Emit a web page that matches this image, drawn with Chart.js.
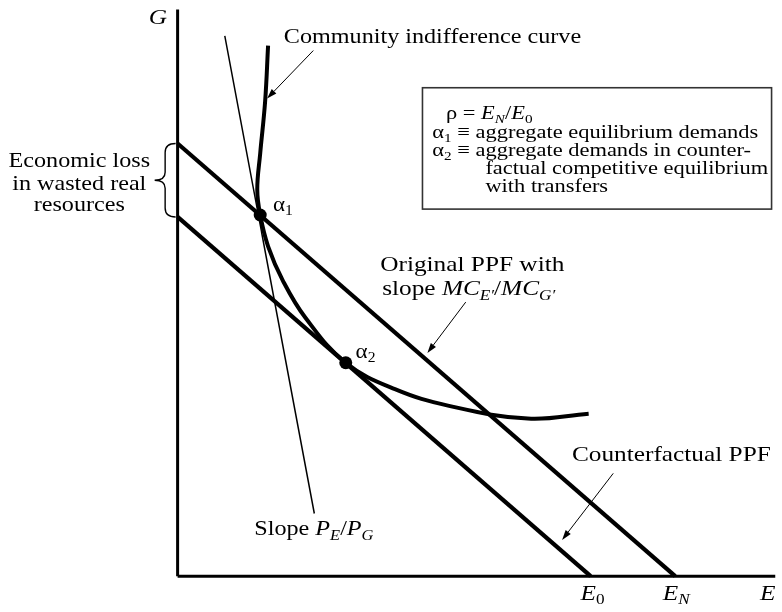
<!DOCTYPE html>
<html><head><meta charset="utf-8">
<script src="https://cdn.jsdelivr.net/npm/chart.js@4.4.1/dist/chart.umd.min.js"></script>
<style>html,body{margin:0;padding:0;background:#fff}canvas{display:block}</style>
</head><body>
<canvas id="c" width="782" height="612"></canvas>
<script>
// ---- data (diagram units, origin where the axes meet) ----
const axisE = [[0,0],[608,0]];
const axisG = [[0,0],[0,579]];
const originalPPF = [[0,442],[506,0]];
const counterfactualPPF = [[0,367],[420,0]];
const priceLine = [[48,552],[139,64]];
const indiffX = [92,89,84,81,84,92,107,130,171,221,276,356,418];
const indiffY = [542,485,432,395,369,337,302,264,218,191,174,161,166];
const equilibria = [[84,369],[171,218]];
const tickLabels = [ {x:422, t:[['E','i'],['0','s']]}, {x:507, t:[['E','i'],['N','si']]}, {x:600, t:[['E','i']]} ];

// ---- annotations (diagram units) ----
const arrows = [ [[138,537],[91,488]], [[293,280],[254,228]], [[443,105],[391,37]] ];
const SX = 1.15;
const FAM = '"Liberation Serif","DejaVu Serif",serif';
const labels = [
  {x:-20, y:564, size:22, align:'center', segs:[['G','i']]},
  {x:97, y:373, size:20, align:'left', segs:[['α'],['1','s']]},
  {x:181, y:223, size:20, align:'left', segs:[['α'],['2','s']]},
  {x:108, y:545, size:21, align:'left', segs:[['Community indifference curve']]},
  {x:-100, y:418, size:21, align:'center', segs:[['Economic loss']]},
  {x:-100, y:395, size:21, align:'center', segs:[['in wasted real']]},
  {x:-100, y:373, size:21, align:'center', segs:[['resources']]},
  {x:206, y:312, size:22, align:'left', segs:[['Original PPF with']]},
  {x:208, y:287, size:22, align:'left', segs:[['slope '],['MC','i'],['E′','si'],['/'],['MC','i'],['G′','si']]},
  {x:401, y:118, size:22, align:'left', segs:[['Counterfactual PPF']]},
  {x:78, y:42, size:21, align:'left', segs:[['Slope '],['P','i'],['E','si'],['/'],['P','i'],['G','si']]},
  {x:273, y:467, size:19.5, align:'left', segs:[['ρ = '],['E','i'],['N','si'],['/'],['E','i'],['0','s']]},
  {x:259, y:448, size:19.5, align:'left', segs:[['α'],['1','s'],[' ≡ aggregate equilibrium demands']]},
  {x:259, y:429.4, size:19.5, align:'left', segs:[['α'],['2','s'],[' ≡ aggregate demands in counter-']]},
  {x:313, y:410.8, size:19.5, align:'left', segs:[['factual competitive equilibrium']]},
  {x:313, y:392.2, size:19.5, align:'left', segs:[['with transfers']]}
];
const box = {x0:249, y0:499, x1:604, y1:375};
const brace = {x:-2, y0:442, y1:367, depth:21};

function pts(a){ return a.map(p=>({x:p[0], y:p[1]})); }
function fnt(sz,it){ return (it?'italic ':'')+sz+'px '+FAM; }
function drawRich(ctx, x, y, segs, size, align){
  let w=0; const parts=[];
  for(const s of segs){
    const t=s[0], st=s[1]||''; const sub=st.includes('s'); const it=st.includes('i');
    const sz=sub?size*0.68:size; ctx.font=fnt(sz,it);
    const m=ctx.measureText(t).width;
    parts.push({t,sub,it,sz,x:w}); w+=m;
  }
  let x0 = align==='center'? -w/2 : (align==='right'? -w : 0);
  ctx.save(); ctx.translate(x,y); ctx.scale(SX,1);
  ctx.fillStyle='#000'; ctx.textBaseline='alphabetic'; ctx.textAlign='left';
  for(const p of parts){ ctx.font=fnt(p.sz,p.it); ctx.fillText(p.t, x0+p.x, p.sub? size*0.22:0); }
  ctx.restore();
}

const annot = {
  id:'annot',
  afterDatasetsDraw(chart){
    const ctx=chart.ctx, xs=chart.scales.x, ys=chart.scales.y;
    const X=v=>xs.getPixelForValue(v), Y=v=>ys.getPixelForValue(v);
    ctx.save();
    // arrows
    ctx.strokeStyle='#000'; ctx.fillStyle='#000'; ctx.lineWidth=1;
    for(const a of arrows){
      const x1=X(a[0][0]), y1=Y(a[0][1]), x2=X(a[1][0]), y2=Y(a[1][1]);
      const ang=Math.atan2(y2-y1,x2-x1), L=10, H=3.2;
      const bx=x2-L*Math.cos(ang), by=y2-L*Math.sin(ang);
      ctx.beginPath(); ctx.moveTo(x1,y1); ctx.lineTo(bx,by); ctx.stroke();
      ctx.beginPath(); ctx.moveTo(x2,y2);
      ctx.lineTo(bx+H*Math.sin(ang), by-H*Math.cos(ang));
      ctx.lineTo(bx-H*Math.sin(ang), by+H*Math.cos(ang)); ctx.closePath(); ctx.fill();
    }
    // brace
    const bxp=X(brace.x), t=Y(brace.y0), b=Y(brace.y1), m=(t+b)/2, d=brace.depth, mid=bxp-d/2;
    ctx.lineWidth=1.4; ctx.beginPath();
    ctx.moveTo(bxp,t);
    ctx.quadraticCurveTo(mid,t,mid,t+9);
    ctx.lineTo(mid,m-8);
    ctx.quadraticCurveTo(mid,m,bxp-d,m);
    ctx.quadraticCurveTo(mid,m,mid,m+8);
    ctx.lineTo(mid,b-9);
    ctx.quadraticCurveTo(mid,b,bxp,b);
    ctx.stroke();
    // box
    ctx.lineWidth=1.6; ctx.strokeStyle='#333';
    ctx.strokeRect(X(box.x0), Y(box.y0), X(box.x1)-X(box.x0), Y(box.y1)-Y(box.y0));
    // labels
    for(const l of labels) drawRich(ctx, X(l.x), Y(l.y), l.segs, l.size, l.align);
    for(const tk of tickLabels) drawRich(ctx, X(tk.x), Y(-24), tk.t, 22, 'center');
    ctx.restore();
  }
};

const line=(data,w,extra)=>Object.assign({data:pts(data), showLine:true, borderColor:'#000', borderWidth:w, pointRadius:0, fill:false}, extra||{});
new Chart(document.getElementById('c'), {
  type:'scatter',
  data:{ datasets:[
    line(axisE,3), line(axisG,3),
    line(originalPPF,4.2), line(counterfactualPPF,4.2),
    line(priceLine,1.5),
    {data:indiffX.map((x,i)=>({x, y:indiffY[i]})), showLine:true, borderColor:'#000', borderWidth:4, pointRadius:0, tension:0.4, fill:false, borderCapStyle:'butt'},
    {data:pts(equilibria), showLine:false, pointRadius:6.5, pointBackgroundColor:'#000', pointBorderColor:'#000', pointBorderWidth:0}
  ]},
  options:{
    responsive:false, animation:false, devicePixelRatio:1,
    layout:{padding:0},
    plugins:{legend:{display:false}, tooltip:{enabled:false}},
    events:[],
    scales:{ x:{type:'linear', min:-174, max:608, display:false}, y:{type:'linear', min:-30, max:582, display:false} }
  },
  plugins:[annot]
});
</script>
</body></html>
